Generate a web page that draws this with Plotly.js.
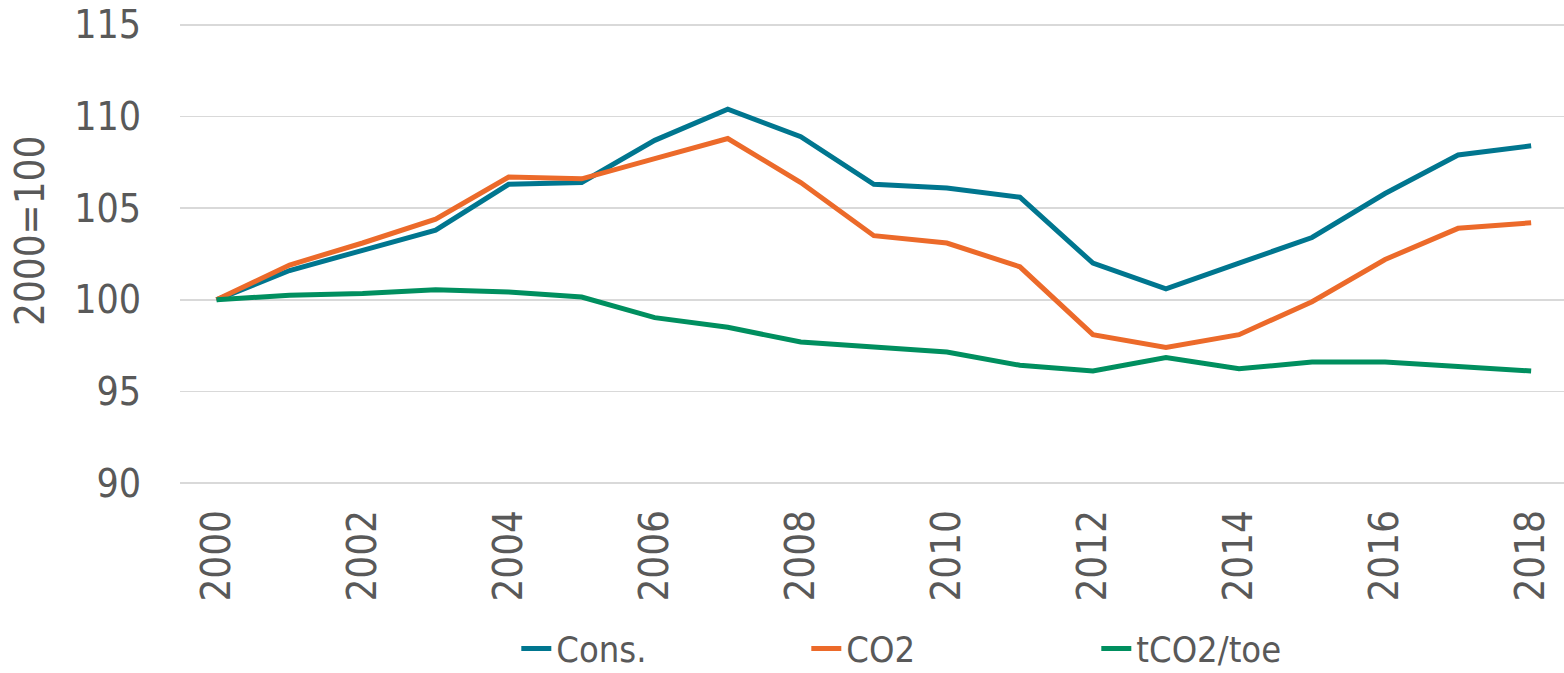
<!DOCTYPE html>
<html>
<head>
<meta charset="utf-8">
<script src="https://cdn.plot.ly/plotly-3.0.1.min.js"></script>
<style>
  html, body { margin: 0; padding: 0; background: white; }
  #chart { width: 1564px; height: 673px; }
</style>
</head>
<body>
<div id="chart"></div>
<script>
// years and index values (2000 = 100)
var years = [2000, 2001, 2002, 2003, 2004, 2005, 2006, 2007, 2008, 2009,
             2010, 2011, 2012, 2013, 2014, 2015, 2016, 2017, 2018];

var consValues = [100, 101.6, 102.7, 103.8, 106.3, 106.4, 108.7, 110.4, 108.9, 106.3,
                  106.1, 105.6, 102.0, 100.6, 102.0, 103.4, 105.8, 107.9, 108.4];

var co2Values = [100, 101.9, 103.1, 104.4, 106.7, 106.6, 107.7, 108.8, 106.4, 103.5,
                 103.1, 101.8, 98.1, 97.4, 98.1, 99.9, 102.2, 103.9, 104.2];

var intensityValues = [100, 100.25, 100.34, 100.55, 100.43, 100.15, 99.03, 98.5, 97.7, 97.4,
                       97.15, 96.43, 96.12, 96.85, 96.24, 96.61, 96.61, 96.37, 96.12];

var yTicks = [90, 95, 100, 105, 110, 115];
var xTicks = [2000, 2002, 2004, 2006, 2008, 2010, 2012, 2014, 2016, 2018];

var textColor = "#595959";
var fontFamily = "DejaVu Sans Condensed, DejaVu Sans, sans-serif";

function makeTrace(y, name, color) {
    return {
        x: years,
        y: y,
        mode: "lines",
        name: name,
        line: { color: color, width: 5 },
    };
}

var data = [
    makeTrace(consValues, "Cons.", "#00768F"),
    makeTrace(co2Values, "CO2", "#EC6A2A"),
    makeTrace(intensityValues, "tCO2/toe", "#008F5F"),
];

var layout = {
    width: 1564,
    height: 673,
    margin: { l: 180, r: 0, t: 23, b: 188, pad: 0, autoexpand: false },
    paper_bgcolor: "white",
    plot_bgcolor: "white",
    font: { family: fontFamily, size: 40, color: textColor },
    xaxis: {
        range: [1999.5, 2018.45],
        tickvals: xTicks,
        ticktext: xTicks.map(String),
        tickangle: -90,
        showgrid: false,
        zeroline: false,
        showline: false,
        ticks: "outside",
        ticklen: 8,
        tickcolor: "white",
        tickfont: { size: 40, color: textColor },
    },
    yaxis: {
        range: [89.9, 115.1],
        tickvals: yTicks,
        showgrid: true,
        gridcolor: "#D9D9D9",
        gridwidth: 1.5,
        zeroline: false,
        showline: false,
        ticks: "outside",
        ticklen: 30,
        tickcolor: "white",
        tickfont: { size: 39, color: textColor },
    },
    annotations: [{
        text: "2000=100",
        xref: "paper",
        yref: "paper",
        x: (30 - 180) / 1384,
        y: (484 - 230) / 462,
        xanchor: "center",
        yanchor: "middle",
        textangle: -90,
        showarrow: false,
        font: { size: 40, color: textColor },
    }],
    showlegend: true,
    legend: {
        orientation: "h",
        x: 0.243,
        xanchor: "left",
        y: -0.354,
        yanchor: "middle",
        entrywidth: 245,
        font: { size: 36, color: textColor },
        bgcolor: "rgba(0,0,0,0)",
    },
};

Plotly.newPlot("chart", data, layout, { displayModeBar: false, staticPlot: true });
</script>
</body>
</html>
